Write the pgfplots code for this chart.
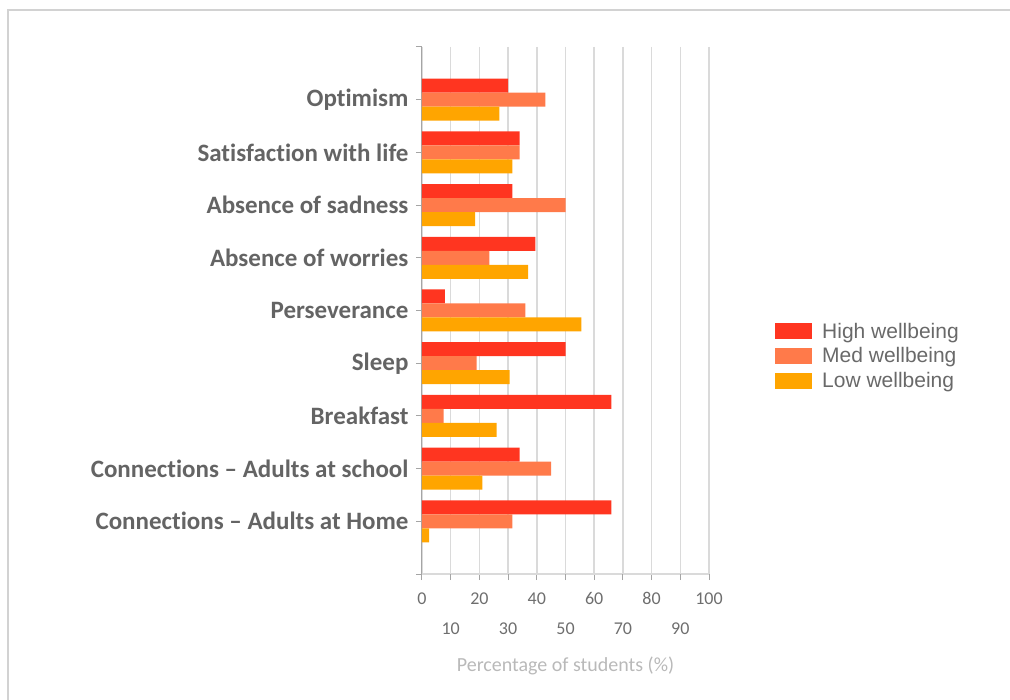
\documentclass[border=0pt]{standalone}
\usepackage{pgfplots}
\pgfplotsset{compat=1.18}
\usepackage{fontspec}
\setmainfont{Carlito}[Ligatures=NoCommon]
\newfontfamily\legendfont{Liberation Sans}

\definecolor{highc}{RGB}{255,53,32}
\definecolor{medc}{RGB}{255,122,74}
\definecolor{lowc}{RGB}{255,165,0}
\definecolor{catgray}{RGB}{100,100,100}
\definecolor{legendgray}{RGB}{105,105,105}
\definecolor{tickgray}{RGB}{110,110,110}
\definecolor{gridgray}{RGB}{218,218,218}
\definecolor{axisgray}{RGB}{165,165,165}
\definecolor{labelgray}{RGB}{185,185,185}
\definecolor{framegray}{RGB}{210,210,210}

\begin{document}
\begin{tikzpicture}[x=1pt,y=1pt]
\useasboundingbox (0,0) rectangle (1010,700);
% outer frame of the chart area
\draw[framegray, line width=1.2pt] (8,-5) -- (8,690) -- (1020,690);

\begin{axis}[
  at={(422pt,126pt)}, anchor=south west,
  scale only axis, width=287pt, height=527pt,
  xmin=0, xmax=100, ymin=0, ymax=10,
  y dir=reverse,
  xbar, bar width=14pt,
  axis x line*=bottom, axis y line*=left,
  axis line style={axisgray, line width=1pt},
  x axis line style={gridgray, line width=1.5pt},
  tick style={axisgray, line width=1pt},
  tick align=outside,
  major tick length=6pt,
  /pgf/number format/assume math mode=true,
  xtick={0,20,...,100},
  extra x ticks={10,30,...,90},
  extra x tick style={grid=major, major grid style={gridgray, line width=1.5pt},
    tick label style={yshift=-30pt}},
  xmajorgrids, major grid style={gridgray, line width=1.5pt},
  ytick={0,1,...,10},
  yticklabels={,Optimism,Satisfaction with life,Absence of sadness,Absence of worries,Perseverance,Sleep,Breakfast,Connections -- Adults at school,Connections -- Adults at Home,},
  y tick label style={font=\fontsize{25}{30}\selectfont\bfseries, text=catgray, xshift=-4pt},
  x tick label style={font=\fontsize{18}{21}\selectfont, text=tickgray, yshift=-9pt},
  xlabel={Percentage of students (\%)},
  xlabel style={font=\fontsize{20}{24}\selectfont, text=labelgray, yshift=-10pt},
  legend style={draw=none, fill=none, at={(axis description cs:1.23,0.4137)}, anchor=west,
    font=\legendfont\fontsize{21}{24}\selectfont, text=legendgray,
    row sep=8pt, inner sep=0pt, nodes={inner xsep=10pt, inner ysep=0pt}},
  legend cell align=left,
  legend image code/.code={\fill[#1] (0pt,-8pt) rectangle (37pt,8pt);},
]
\addplot[draw=none, fill=highc, bar shift=14pt] coordinates {
  (30,1) (34,2) (31.5,3) (39.5,4) (8,5) (50,6) (66,7) (34,8) (66,9)};
\addplot[draw=none, fill=medc, bar shift=0pt] coordinates {
  (43,1) (34,2) (50,3) (23.5,4) (36,5) (19,6) (7.5,7) (45,8) (31.5,9)};
\addplot[draw=none, fill=lowc, bar shift=-14pt] coordinates {
  (27,1) (31.5,2) (18.5,3) (37,4) (55.5,5) (30.5,6) (26,7) (21,8) (2.5,9)};
\legend{High wellbeing, Med wellbeing, Low wellbeing}
\end{axis}
\end{tikzpicture}
\end{document}
